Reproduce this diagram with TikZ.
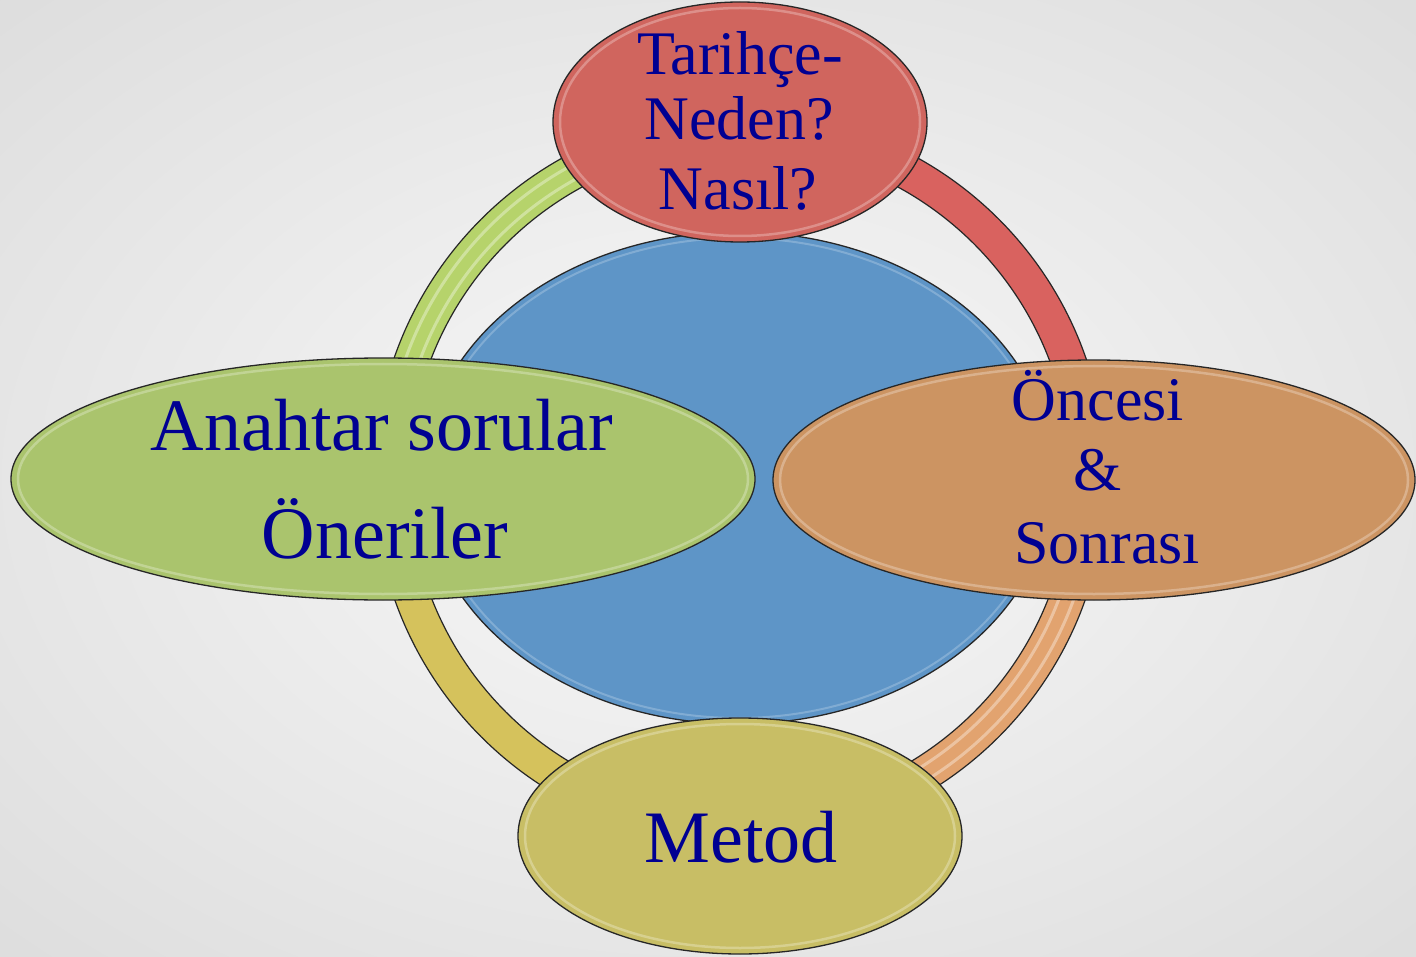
\documentclass[tikz,border=0pt]{standalone}
\usepackage{fontspec}
\setmainfont{Liberation Serif}
\usetikzlibrary{shapes.geometric}
\definecolor{bgin}{HTML}{F1F1F1}
\definecolor{bgout}{HTML}{C9C9C9}
\definecolor{txtblue}{HTML}{000092}
\definecolor{ellGreen}{HTML}{AAC46D}
\definecolor{ellRed}{HTML}{D0655E}
\definecolor{ellOrange}{HTML}{CC9462}
\definecolor{ellYellow}{HTML}{C8BE65}
\definecolor{ellBlue}{HTML}{5E95C7}
\definecolor{ringGreen}{HTML}{B6D36B}
\definecolor{ringRed}{HTML}{D9625F}
\definecolor{ringOrange}{HTML}{E2A36F}
\definecolor{ringYellow}{HTML}{D5C25C}
\pgfdeclareradialshading{bgshade}{\pgfpoint{0bp}{0bp}}{color(0bp)=(bgin); color(10bp)=(bgin); color(62bp)=(bgout); color(80bp)=(bgout)}
\begin{document}
\begin{tikzpicture}[x=1pt,y=-1pt,
  bubble/.style={ellipse, draw=black!85, line width=1.3pt, inner sep=0pt, outer sep=0pt},
  lbl/.style={text=txtblue, anchor=base, inner sep=0pt},
  big/.style={font=\fontsize{74}{80}\selectfont},
  mid/.style={font=\fontsize{62}{70}\selectfont},
  rim/.style={draw=white, opacity=0.28, line width=2.5pt},
  stripe/.style={draw=white, opacity=0.35, line width=3pt}]
\shade[shading=bgshade] (0,0) rectangle (1416,957);
\useasboundingbox (0,0) rectangle (1416,957);
% ring
\begin{scope}[shift={(740,478)}]
\foreach \a/\c in {180/ringGreen, 270/ringRed, 0/ringOrange, 90/ringYellow}{
  \draw[fill=\c, draw=black!85, line width=1.2pt] (\a:366) arc[start angle=\a, delta angle=90, radius=366]
     -- (\a+90:331) arc[start angle=\a+90, delta angle=-90, radius=331] -- cycle;
}
\foreach \a in {180, 0}{
  \draw[stripe] (\a:341) arc[start angle=\a, delta angle=90, radius=341];
  \draw[stripe] (\a:355) arc[start angle=\a, delta angle=90, radius=355];
}
\end{scope}
% central circle
\node[bubble, fill=ellBlue, minimum width=630, minimum height=492] (core) at (738,478) {};
\draw[draw=white, opacity=0.22, line width=2pt] (738,478) ellipse [x radius=309, y radius=240];
% ellipses
\node[bubble, fill=ellRed, minimum width=374, minimum height=240] (top) at (740,122) {};
\draw[rim] (740,122) ellipse [x radius=180, y radius=114];
\node[bubble, fill=ellGreen, minimum width=744, minimum height=242] (left) at (383,479) {};
\draw[rim] (383,479) ellipse [x radius=365, y radius=115];
\node[bubble, fill=ellOrange, minimum width=642, minimum height=240] (right) at (1094,480) {};
\draw[rim] (1094,480) ellipse [x radius=314, y radius=114];
\node[bubble, fill=ellYellow, minimum width=444, minimum height=236] (bottom) at (740,836) {};
\draw[rim] (740,836) ellipse [x radius=215, y radius=112];
% labels
\node[lbl, mid] (t1) at (740,75) {Tarihçe-};
\node[lbl, mid] (t2) at (739,140) {Neden?};
\node[lbl, mid] (t3) at (738,210) {Nasıl?};
\node[lbl, big] (l1) at (382,450) {Anahtar sorular};
\node[lbl, big] (l2) at (385,558) {Öneriler};
\node[lbl, mid] (r1) at (1098,420) {Öncesi};
\node[lbl, mid] (r2) at (1098,490) {\&};
\node[lbl, mid] (r3) at (1107,563) {Sonrası};
\node[lbl, big] (b1) at (741,862) {Metod};
\end{tikzpicture}
\end{document}
